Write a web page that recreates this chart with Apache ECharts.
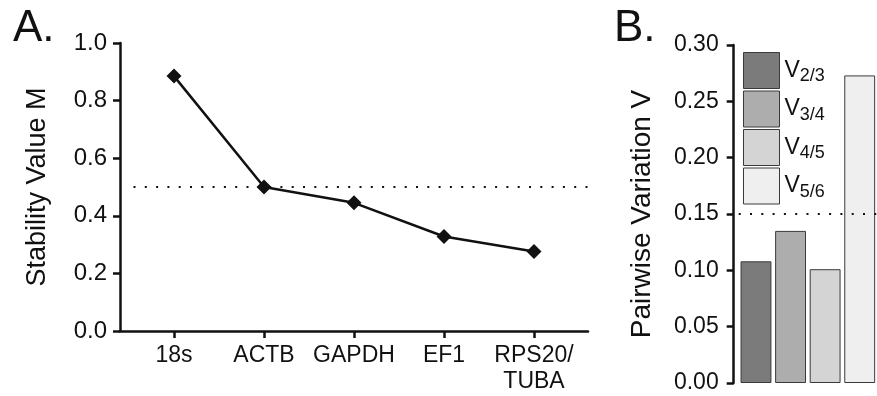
<!DOCTYPE html>
<html>
<head>
<meta charset="utf-8">
<script src="https://cdn.jsdelivr.net/npm/echarts@6.0.0/dist/echarts.min.js"></script>
<style>
html, body { margin: 0; padding: 0; background: #fff; }
#main { width: 877px; height: 396px; }
</style>
</head>
<body>
<div id="main"></div>
<script>
// panel A - geNorm stability
var genes = ['18s', 'ACTB', 'GAPDH', 'EF1', 'RPS20/\nTUBA'];
var stabilityM = [0.885, 0.500, 0.445, 0.328, 0.276];
var mCutoff = 0.5;

// panel B - pairwise variation
var pairs = ['V2/3', 'V3/4', 'V4/5', 'V5/6'];
var pairwiseV = [0.108, 0.135, 0.101, 0.273];
var pairColors = ['#7b7b7b', '#adadad', '#d4d4d4', '#efefef'];
var vCutoff = 0.15;

var ink = '#111';
var font = 'Liberation Sans';

var geneIdx = genes.map(function (g, i) { return i; });

var barSeries = pairs.map(function (p, i) {
    return {
        name: p,
        type: 'bar',
        xAxisIndex: 1,
        yAxisIndex: 1,
        stack: 'v',
        barCategoryGap: '10.7%',
        animation: false,
        itemStyle: { color: pairColors[i], borderColor: '#3a3a3a', borderWidth: 1 },
        data: pairwiseV.map(function (v, j) { return j === i ? v : '-'; })
    };
});
// dotted cutoff on panel B
barSeries[0].markLine = {
    silent: true,
    symbol: 'none',
    label: { show: false },
    lineStyle: { color: ink, type: [2, 9.3], width: 2 },
    data: [{ yAxis: vCutoff }]
};

var option = {
    animation: false,
    textStyle: { fontFamily: font },
    title: [
        { text: 'A.', left: 8, top: 2, textStyle: { fontSize: 44, fontWeight: 'normal', color: ink, fontFamily: font } },
        { text: 'B.', left: 609, top: 2, textStyle: { fontSize: 44, fontWeight: 'normal', color: ink, fontFamily: font } }
    ],
    legend: {
        data: pairs,
        orient: 'vertical',
        left: 743,
        top: 52,
        padding: 0,
        itemWidth: 36,
        itemHeight: 36,
        itemGap: 1.5,
        icon: 'rect',
        selectedMode: false,
        itemStyle: { borderColor: '#3a3a3a', borderWidth: 1 },
        formatter: function (name) {
            return '{v|V}{s|' + name.slice(1) + '}';
        },
        textStyle: {
            rich: {
                v: { fontSize: 23, lineHeight: 30, color: ink, fontFamily: font, verticalAlign: 'middle' },
                s: { fontSize: 18, lineHeight: 18, color: ink, fontFamily: font, verticalAlign: 'bottom' }
            }
        }
    },
    grid: [
        { left: 120, top: 43, width: 468, height: 288 },
        { left: 738.7, top: 45, width: 149.3, height: 338 }
    ],
    xAxis: [
        {
            type: 'value',
            gridIndex: 0,
            min: -0.6,
            max: 4.6,
            splitLine: { show: false },
            axisLine: { onZero: false, lineStyle: { color: ink, width: 2.5 } },
            axisTick: { customValues: geneIdx, length: 7, lineStyle: { color: ink, width: 2.5 } },
            axisLabel: {
                customValues: geneIdx,
                formatter: function (v) { return genes[v]; },
                color: ink,
                fontSize: 23,
                lineHeight: 26,
                margin: 12
            }
        },
        {
            type: 'category',
            gridIndex: 1,
            data: pairs,
            axisLine: { show: false },
            axisTick: { show: false },
            axisLabel: { show: false }
        }
    ],
    yAxis: [
        {
            type: 'value',
            gridIndex: 0,
            min: 0,
            max: 1,
            interval: 0.2,
            name: 'Stability Value M',
            nameLocation: 'middle',
            nameGap: 69,
            nameTextStyle: { fontSize: 27, color: ink },
            splitLine: { show: false },
            axisLine: { show: true, onZero: false, lineStyle: { color: ink, width: 2.5 } },
            axisTick: { show: true, length: 7, lineStyle: { color: ink, width: 2.5 } },
            axisLabel: { color: ink, fontSize: 24, margin: 13, formatter: function (v) { return v.toFixed(1); } }
        },
        {
            type: 'value',
            gridIndex: 1,
            min: 0,
            max: 0.3,
            interval: 0.05,
            offset: 5,
            name: 'Pairwise Variation V',
            nameLocation: 'middle',
            nameGap: 77,
            nameTextStyle: { fontSize: 28, color: ink },
            splitLine: { show: false },
            axisLine: { show: true, onZero: false, lineStyle: { color: ink, width: 2.5 } },
            axisTick: { show: true, length: 7, lineStyle: { color: ink, width: 2.5 } },
            axisLabel: { color: ink, fontSize: 23, margin: 15, formatter: function (v) { return v.toFixed(2); } }
        }
    ],
    series: [
        {
            name: 'M',
            type: 'line',
            xAxisIndex: 0,
            yAxisIndex: 0,
            symbol: 'diamond',
            symbolSize: [15, 15],
            lineStyle: { color: ink, width: 2.5 },
            itemStyle: { color: ink },
            data: stabilityM.map(function (v, i) { return [i, v]; }),
            markLine: {
                silent: true,
                symbol: 'none',
                label: { show: false },
                lineStyle: { color: ink, type: [2, 9.3], width: 2 },
                data: [[{ coord: [-0.45, mCutoff] }, { coord: [4.6, mCutoff] }]]
            }
        }
    ].concat(barSeries)
};

var chart = echarts.init(document.getElementById('main'), null, { renderer: 'canvas' });
chart.setOption(option);
</script>
</body>
</html>
